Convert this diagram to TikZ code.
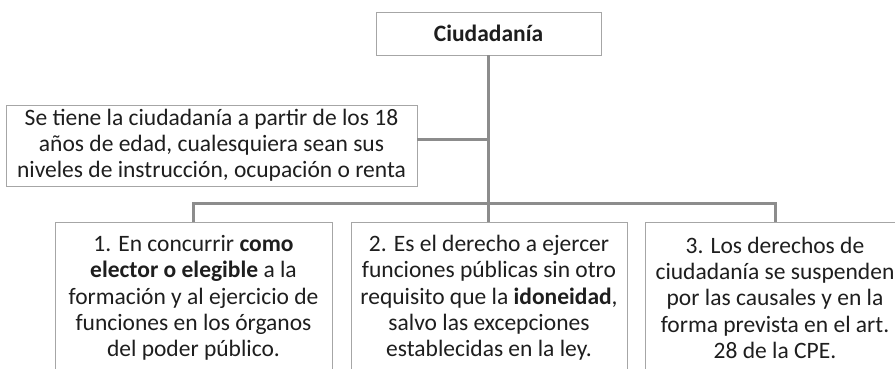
\documentclass[tikz,border=0pt]{standalone}
\usepackage{fontspec}
\setmainfont{Carlito}
\usetikzlibrary{positioning}
\definecolor{boxgray}{HTML}{A6A6A6}
\definecolor{linegray}{HTML}{8C8C8C}
\definecolor{txt}{HTML}{1E1E1E}

\begin{document}
\begin{tikzpicture}[
  x=1pt,y=-1pt,
  box/.style={draw=boxgray,line width=0.8pt,fill=white,align=center,inner sep=0pt,
              text=txt,font=\fontsize{23.5}{25.8}\selectfont},
  item/.style={box,anchor=north,minimum height=151,font=\fontsize{23.5}{26.3}\selectfont},
  link/.style={draw=linegray,line width=3pt}
]
\useasboundingbox (0,0) rectangle (895,368);
\node[box,minimum width=225,minimum height=43] (ciud) at (488.5,33.5) {\textbf{Ciudadanía}};
\node[box,minimum width=411,minimum height=81] (edad) at (211.5,145.5)
  {Se tiene la ciudadanía a partir de los 18\\años de edad, cualesquiera sean sus\\niveles de instrucción, ocupación o renta};
\node[item,minimum width=277] (elector) at (193.5,222)
  {1. En concurrir \textbf{como}\\\textbf{elector o elegible} a la\\formación y al ejercicio de\\funciones en los órganos\\del poder público.};
\node[item,minimum width=276] (funcion) at (489,222)
  {2. Es el derecho a ejercer\\funciones públicas sin otro\\requisito que la \textbf{idoneidad},\\salvo las excepciones\\establecidas en la ley.};
\node[item,minimum width=260] (suspension) at (775,222)
  {3. Los derechos de\\ciudadanía se suspenden\\por las causales y en la\\forma prevista en el art.\\28 de la CPE.};
% conectores
\draw[link] (ciud.south) -- (ciud.south |- funcion.north);
\draw[link] ([yshift=6.5pt]edad.east) -- ([yshift=6.5pt]edad.east -| ciud.south);
\draw[link] (elector.north) -- ++(0,-19) -| (suspension.north);
\end{tikzpicture}
\end{document}
